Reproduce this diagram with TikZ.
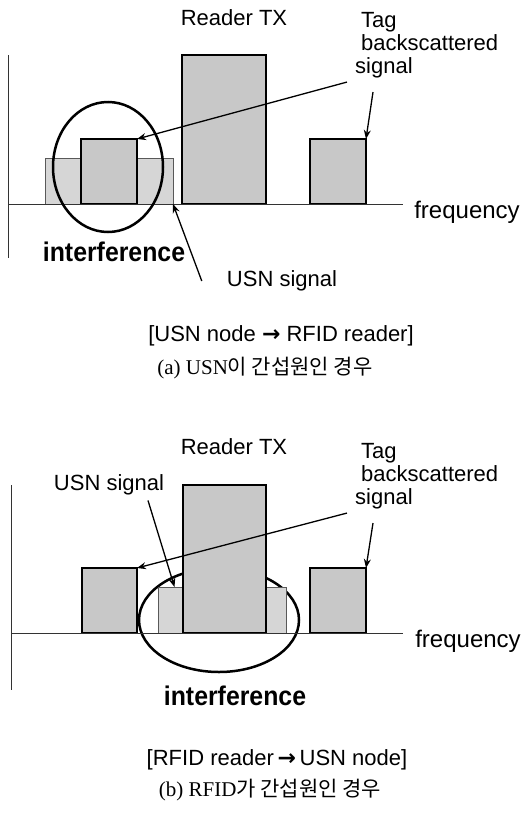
\documentclass[tikz,border=0pt]{standalone}
\usepackage{fontspec}
\setmainfont{Liberation Sans}
\newfontfamily\capserif{Liberation Serif}
\newfontfamily\capkr{Noto Sans CJK KR}
\newfontfamily\arrfont{DejaVu Sans}
\usetikzlibrary{arrows.meta,positioning}
\definecolor{barfill}{RGB}{200,200,200}
\definecolor{usnfill}{RGB}{214,214,214}
\newcommand{\bigarr}{{\arrfont\bfseries →}}

\begin{document}
\begin{tikzpicture}[x=1pt,y=-1pt,
  lbl/.style={font=\fontsize{22}{23}\selectfont,inner sep=0pt},
  freqlbl/.style={font=\fontsize{24}{26}\selectfont,inner sep=0pt},
  intf/.style={font=\fontsize{27}{28}\selectfont\bfseries,inner sep=0pt},
  capline/.style={font=\fontsize{21}{23}\selectfont,inner sep=0pt},
  bar/.style={draw=black,line width=2.5pt,fill=barfill,anchor=south west,inner sep=0pt,outer sep=0pt},
  usnbar/.style={draw=black!65,line width=0.8pt,fill=usnfill,anchor=south west,inner sep=0pt,outer sep=0pt},
  axisline/.style={line width=0.8pt,black!80},
  ring/.style={line width=2.5pt},
  ptr/.style={line width=1.3pt,-{Stealth[length=9pt,width=7pt]}}]
\useasboundingbox (0,0) rectangle (523,822);
% (a) USN node interferes
\draw[axisline] (8,55) -- (8,258);
\node[usnbar,minimum width=128pt,minimum height=46pt] (usnA) at (45,204) {};
\node[bar,minimum width=56pt,minimum height=65pt] (tagA) at (81,204) {};
\node[bar,minimum width=84pt,minimum height=149pt] (rdrA) at (182,204) {};
\node[bar,minimum width=56pt,minimum height=65pt] (echoA) at (310,204) {};
\draw[axisline] (8,204) -- (403,204);
\draw[ring] (108,167) ellipse [x radius=55,y radius=65];
\node[lbl] (rtxlblA) at (234,18) {Reader TX};
\node[lbl,align=left,anchor=west] (taglblA) at (355,45) {\hspace{6pt}Tag\\\hspace{6pt}backscattered\\signal};
\node[freqlbl] (freqA) at (467,212) {frequency};
\node[intf] (intfA) at (114,252) {\scalebox{0.92}[1]{interference}};
\node[lbl] (usnlblA) at (282,281) {USN signal};
\draw[ptr] ([shift={(-8,4)}]taglblA.south west) -- (tagA.north east);
\draw[ptr] ([shift={(18,14)}]taglblA.south west) -- (echoA.north east);
\draw[ptr] ([xshift=-25pt]usnlblA.west) -- (usnA.south east);
\node[lbl] (capA) at (281,336) {[USN node \bigarr\ RFID reader]};
\node[capline] (subA) at (265,368) {\capserif (a) USN\capkr 이 간섭원인 경우};
% (b) RFID reader interferes
\begin{scope}[shift={(0,429)}]
\draw[axisline] (11,56) -- (11,261);
\draw[ring] (219,191) ellipse [x radius=80,y radius=52];
\node[bar,minimum width=55pt,minimum height=65pt] (tagB) at (82,204) {};
\node[usnbar,minimum width=25pt,minimum height=46pt] (usnlB) at (158,204) {};
\node[usnbar,minimum width=21pt,minimum height=46pt] (usnrB) at (265,204) {};
\node[bar,minimum width=83pt,minimum height=148pt] (rdrB) at (183,204) {};
\node[bar,minimum width=56pt,minimum height=65pt] (echoB) at (310,204) {};
\draw[axisline] (11,204) -- (403,204);
\node[lbl] (rtxlblB) at (234,18) {Reader TX};
\node[lbl,align=left,anchor=west] (taglblB) at (355,47) {\hspace{6pt}Tag\\\hspace{6pt}backscattered\\signal};
\node[freqlbl] (freqB) at (468,212) {frequency};
\node[lbl] (usnlblB) at (109,56) {USN signal};
\node[intf] (intfB) at (235,267) {\scalebox{0.92}[1]{interference}};
\draw[ptr] ([shift={(-8,4)}]taglblB.south west) -- (tagB.north east);
\draw[ptr] ([shift={(18,14)}]taglblB.south west) -- (echoB.north east);
\draw[ptr] ([shift={(39,5)}]usnlblB.south) -- ([xshift=4pt]usnlB.north);
\node[lbl] (capB) at (277,331) {[RFID reader\,\bigarr\,USN node]};
\node[capline] (subB) at (270,361) {\capserif (b) RFID\capkr 가 간섭원인 경우};
\end{scope}
\end{tikzpicture}
\end{document}
